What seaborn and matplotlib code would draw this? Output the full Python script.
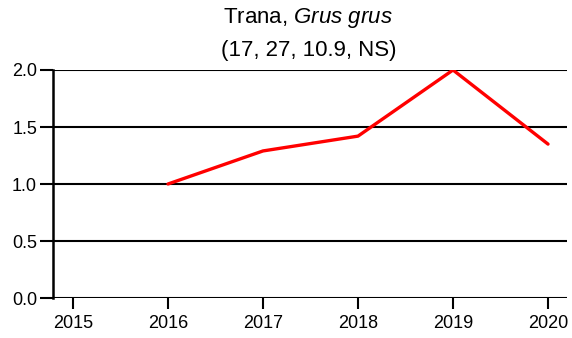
import matplotlib
matplotlib.use("Agg")
import matplotlib.pyplot as plt
import seaborn as sns
import pandas as pd

years = [2016, 2017, 2018, 2019, 2020]
index_values = [1.0, 1.29, 1.42, 2.0, 1.35]
x_ticks = [2015, 2016, 2017, 2018, 2019, 2020]
y_ticks = [0.0, 0.5, 1.0, 1.5, 2.0]

sns.set_theme(style="white")
plt.rcParams["font.family"] = ["Liberation Sans", "DejaVu Sans"]
plt.rcParams["mathtext.fontset"] = "custom"
plt.rcParams["mathtext.rm"] = "Liberation Sans"
plt.rcParams["mathtext.it"] = "Liberation Sans:italic"

df = pd.DataFrame({"year": years, "index": index_values})

fig = plt.figure(figsize=(5.72, 3.38), dpi=100)
ax = fig.add_axes([0.0927, 0.1183, 0.8986, 0.6746])

for y in y_ticks:
    ax.axhline(y, color="black", lw=1.5, zorder=1)

sns.lineplot(data=df, x="year", y="index", color="#ff0000", lw=2.4, ax=ax, zorder=3)

ax.set_xlim(2014.79, 2020.2)
ax.set_ylim(0, 2.0)
ax.set_xticks(x_ticks)
ax.set_xticklabels([str(t) for t in x_ticks])
ax.set_yticks(y_ticks)
ax.set_yticklabels([f"{t:.1f}" for t in y_ticks])
ax.set_xlabel("")
ax.set_ylabel("")

for side in ["top", "right", "bottom"]:
    ax.spines[side].set_visible(False)
ax.spines["left"].set_color("black")
ax.spines["left"].set_linewidth(1.8)

ax.tick_params(axis="both", which="both", colors="black", labelsize=13,
               width=1.5, direction="out", bottom=True, left=True)
ax.tick_params(axis="x", length=8, pad=4)
ax.tick_params(axis="y", length=9.5, pad=2)

fig.text(0.539, 0.947, "Trana, $\\it{Grus\\ grus}$", ha="center", va="center",
         fontsize=16, color="black")
fig.text(0.539, 0.852, "(17, 27, 10.9, NS)", ha="center", va="center",
         fontsize=16, color="black")

fig.savefig("out.png", dpi=100)
